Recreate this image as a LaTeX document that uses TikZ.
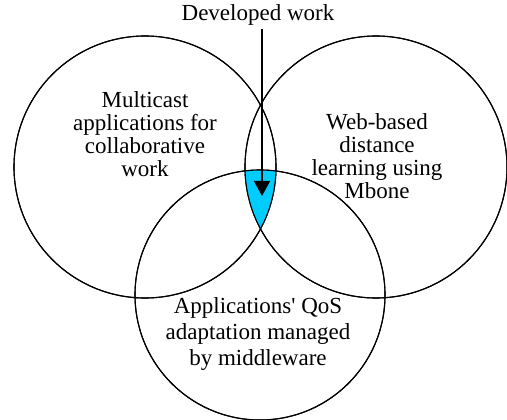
\documentclass[tikz,border=0pt]{standalone}
\usepackage{fontspec}
\setmainfont{Liberation Serif}
\usepackage{xcolor}
\definecolor{overlapcyan}{RGB}{0,204,255}
\usetikzlibrary{arrows.meta, positioning}
\tikzstyle{setcircle} = [circle, 
minimum size=262pt, 
draw=black, 
line width=1.1pt]
\tikzstyle{setlabel} = [align=center, 
font=\fontsize{23}{23}\selectfont]
\tikzstyle{arrow} = [line width=1.1pt,-{Triangle[width=16pt,length=15pt]}]

\begin{document}
\begin{tikzpicture}[x=1pt,y=1pt]
\useasboundingbox (0,0) rectangle (507,-420);
\node (multicast) [setcircle] at (145,-167) {};
\node (webbased) [setcircle] at (376,-167) {};
\node (qos) [setcircle, minimum size=250pt] at (260,-295) {};

% overlap of the three sets
\begin{scope}
\clip (multicast.center) circle (131pt);
\clip (webbased.center) circle (131pt);
\fill [overlapcyan] (qos.center) circle (125pt);
\end{scope}
\draw [line width=1.1pt] (multicast.center) circle (131pt);
\draw [line width=1.1pt] (webbased.center) circle (131pt);
\draw [line width=1.1pt] (qos.center) circle (125pt);

\node (multitext) [setlabel] at (145,-134) {Multicast\\applications for\\collaborative\\work};
\node (webtext) [setlabel] at (377,-156) {Web-based\\distance\\learning using\\Mbone};
\node (qostext) [setlabel, font=\fontsize{23}{26}\selectfont] at (258,-334) {Applications\textquotesingle{} QoS\\adaptation managed\\by middleware};
\node (developed) [setlabel, anchor=north] at (258,-1) {Developed work};
\coordinate (tip) at (262,-196);

\draw [arrow] (developed.south -| tip) -- (tip);
\end{tikzpicture}
\end{document}
